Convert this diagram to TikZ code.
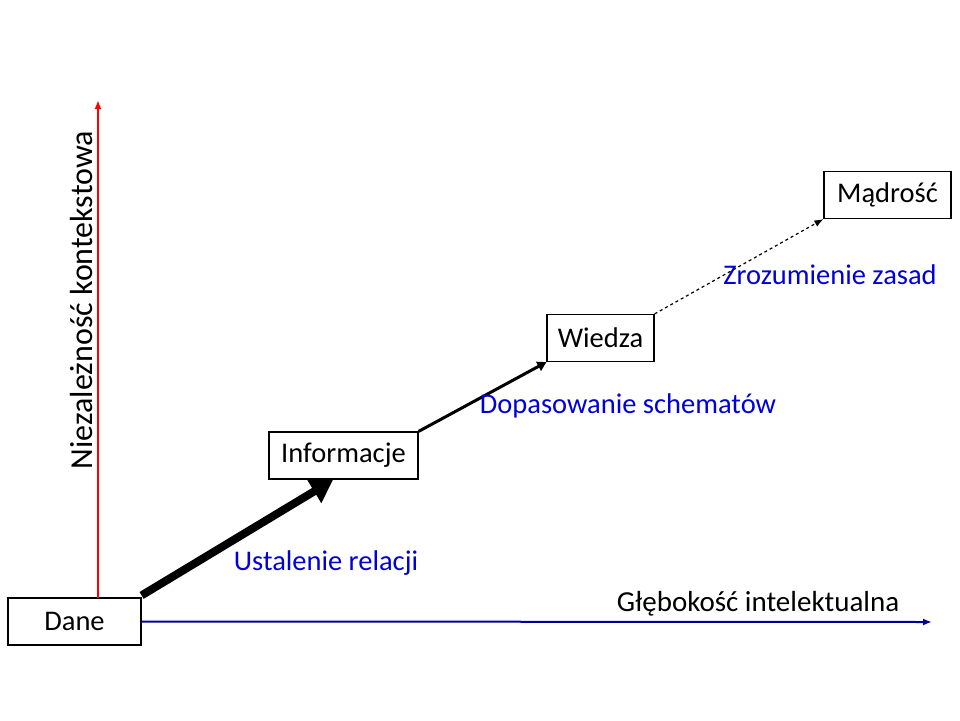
\documentclass[tikz,border=0pt]{standalone}
\usepackage{fontspec}
\setmainfont{Carlito}
\usetikzlibrary{arrows.meta}
\begin{document}
\begin{tikzpicture}[x=1pt,y=-1pt,
  box/.style={draw,line width=1.2pt,fill=white,minimum height=47pt,inner sep=0pt,font=\fontsize{28.5}{32}\selectfont},
  lbl/.style={font=\fontsize{28.5}{32}\selectfont,text=blue!85!black}]
\useasboundingbox (0,0) rectangle (960,720);
\node[box,minimum width=133pt] (d) at (74.5,621.5) {Dane};
\node[box,minimum width=149pt] (i) at (343.5,455.5) {Informacje};
\node[box,minimum width=107pt] (w) at (600.5,338) {Wiedza};
\node[box,minimum width=127pt] (m) at (887.5,195) {Mądrość};
\coordinate (rt) at (98,100);
\coordinate (rb) at (98,598);
\coordinate (be) at (932,622);
\draw[red,line width=2pt,-{Latex[length=9pt,width=7pt]}] (rb) -- (rt);
\draw[blue!60!black,line width=2pt,-{Latex[length=9pt,width=7pt]}] (d.east) -- (be);
\draw[line width=8pt,-{Triangle[length=22pt,width=26pt]}] (d.north east) ++(0,-2) -- (333,480);
\draw[line width=3pt,-{Triangle[length=9pt,width=10pt]}] (i.north east) -- (w.south west);
\draw[dashed,line width=1.2pt,-{Latex[length=9pt,width=7pt]}] (w.north east) -- (m.south west);
\node[lbl] (l1) at (326,563) {Ustalenie relacji};
\node[lbl] (l2) at (628,406) {Dopasowanie schematów};
\node[lbl] (l3) at (830,275) {Zrozumienie zasad};
\node[font=\fontsize{29}{32}\selectfont] (l4) at (758,604) {Głębokość intelektualna};
\node[font=\fontsize{32}{36}\selectfont,rotate=90] (l5) at (82,300) {Niezależność kontekstowa};
\end{tikzpicture}
\end{document}
